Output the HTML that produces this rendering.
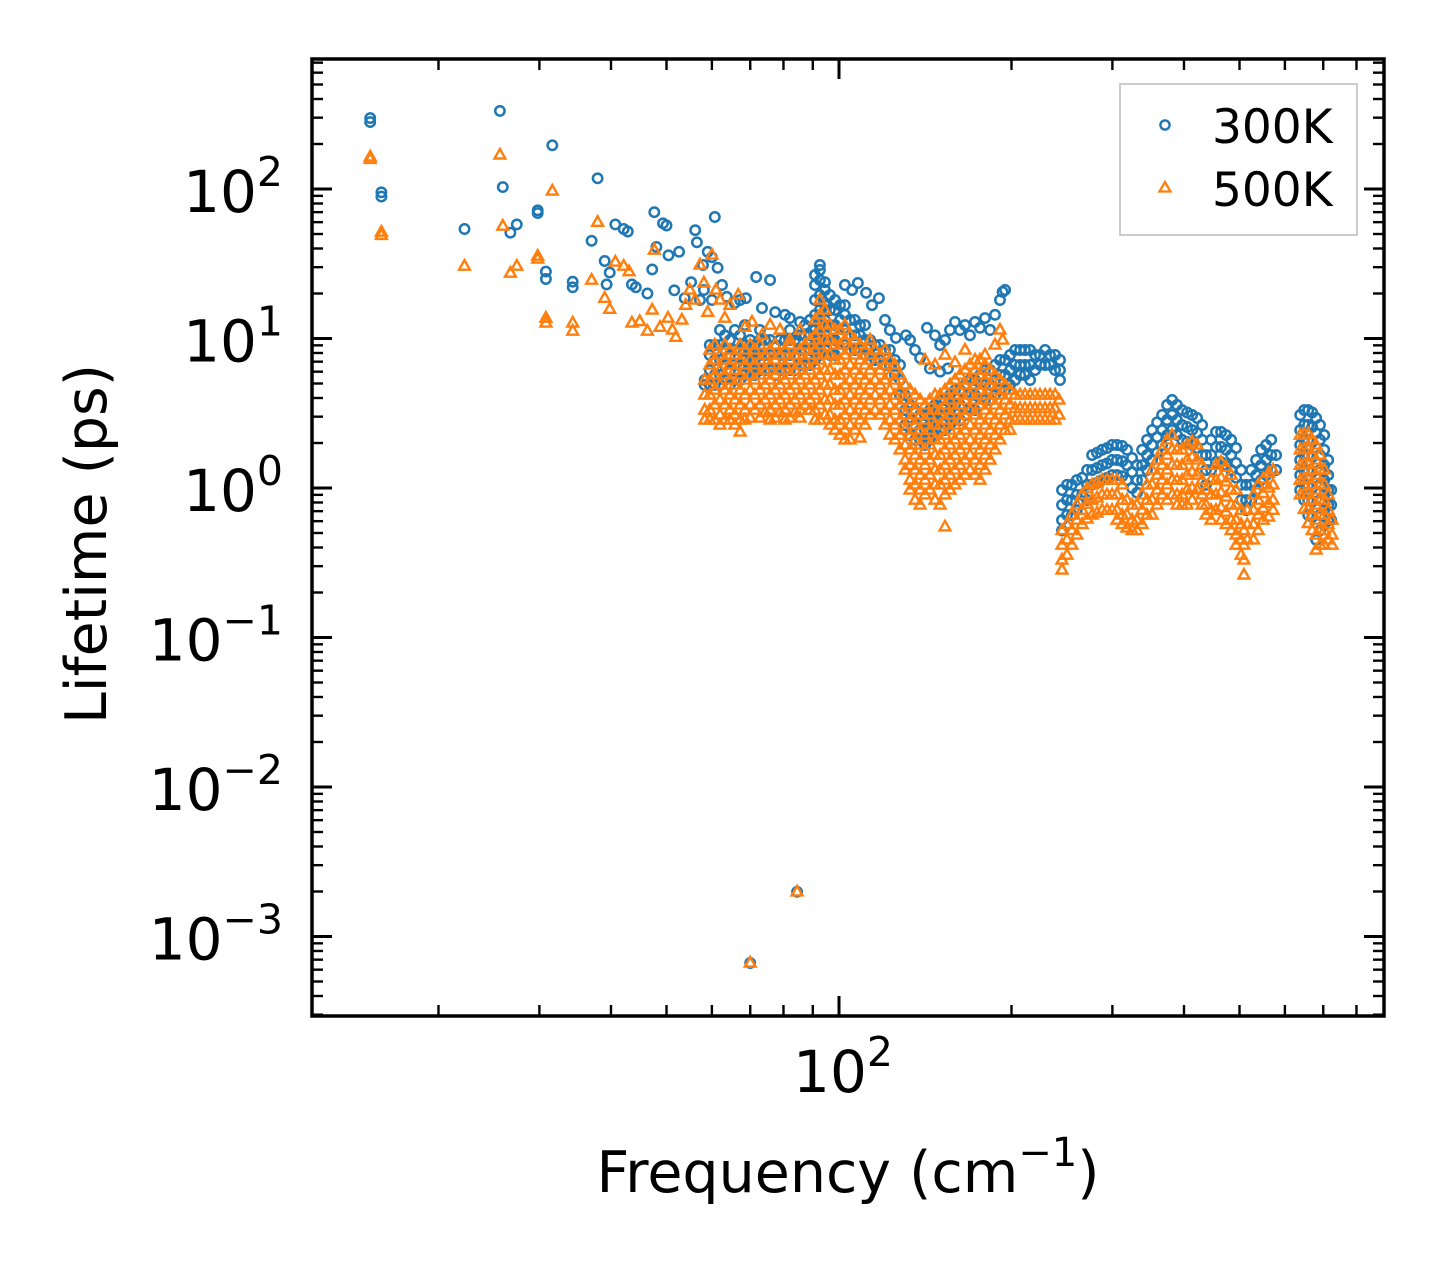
<!DOCTYPE html>
<html><head><meta charset="utf-8"><style>
html,body{margin:0;padding:0;background:#fff;}
svg{display:block;font-family:"DejaVu Sans","Liberation Sans",sans-serif;}
</style></head><body>
<svg id="chart" width="1442" height="1265" viewBox="0 0 1442 1265" xmlns="http://www.w3.org/2000/svg">
<rect x="0" y="0" width="1442" height="1265" fill="#fff"/>
<g id="marks"></g>
<g id="axes"></g>
<text x="106" y="544" font-size="57" text-anchor="middle" transform="rotate(-90 106 544)">Lifetime (ps)</text>
<text x="848" y="1192" font-size="57" text-anchor="middle">Frequency (cm<tspan font-size="40" dy="-26">−1</tspan><tspan dy="26">)</tspan></text>
<g>
<rect x="1120" y="84" width="237" height="151" fill="#fff" stroke="#bbb" stroke-width="1.5"/>
<circle cx="1165" cy="125" r="4.6" fill="none" stroke="#1f77b4" stroke-width="2.4"/>
<text x="1212" y="143" font-size="47">300K</text>
<path d="M1165,182 L1170.5,191.5 L1159.5,191.5 Z" fill="none" stroke="#ff7f0e" stroke-width="2.3"/>
<text x="1212" y="206" font-size="47">500K</text>
</g>
</svg>
<script>
// ---- data ----
const xTickValues = [100];
const yTickExponents = [-3, -2, -1, 0, 1, 2];
const yTickLabels = ["−3", "−2", "−1", "0", "1", "2"];
const xTickLabels = ["2"];

const blueIsolatedFreq = [15.2,15.2,15.9,15.9,22.2,25.6,25.9,26.7,27.4,29.8,29.8,30.8,30.8,31.6,34.3,34.3,37.0,37.9,39.0,39.8,39.3,40.7,42.1,42.8,43.5,44.2,46.3,47.2,47.6,48.0,49.3,50.0,50.4,51.6,52.6,53.8,
56.1,56.5,55.2,57.2,57.9,59.0,60,60.7,58.1,60,61.4,62.5,63.7,65.8,67.2,68.8,71.7,73.4,75.8,77.4,80.5,82.1,85.5,
102.4,105.4,107.9,111.5,114.2,117.4,120.3,122.7,125.7,130.9,
142.4,147.1,150.1,153.1,156.2,159.4,162.6,165.9,169.3,172.7,176.2,179.8,183.5,187.2,191,193,194.9,138.5,144.1,150.1,154.9,133,135.7,
70.0,84.5];
const blueIsolatedLife = [298,280,95,89,54,333,103,51,58,72,69,28,25,196,24,22,45,118,33,27.6,23,58,54,52,23,22,20,29,70,41,59,57,36,21,38,18.6,
53,44,23.8,18.1,31,38,35,65,21.1,18.1,29.7,22.8,19,17.3,18.1,18.6,25.8,16,24.6,15,14.4,13.7,12.9,
22.8,21.1,23.5,20.2,16.7,18.6,13.3,11.4,10.1,10.5,
11.8,10.5,9.05,9.77,11.4,12.9,11.4,12.3,10.5,12.9,11.8,13.7,11.4,14.4,18.1,20.5,21.1,7.4,6.3,6.0,6.3,9.77,8.38,
0.000665,0.00199];

const blueClusterFreq = [58.3,59.5,60.7,62.0,63.2,64.5,65.8,67.2,68.5,70.0,71.3,72.8,74.3,75.8,77.4,78.9,80.5,82.1,83.8,85.5,87.2,89.0,90.8,92.6,94.5,96.4,98.4,100.4,102.4,104.5,106.6,108.8,111,113.3,115.6,117.9,120.3,122.7,125.2,127.8,130.4,133,135.7,138.5,141.3,144.1,147.1,150.1,153.1,156.2,159.4,162.6,165.9,169.3,172.7,176.2,179.8,183.5,187.2,191,194.9,198.8,202.9,207,211.2,215.5,219.9,224.3,228.9,233.5,238.3,243,
245,250,255,260,265.6,271,276.5,282,287.8,293.6,299.6,305.6,312,318.2,324.7,331.2,338,344.8,351.9,359,366.3,373.7,381.4,389,397,405,413.3,421.6,430.2,437,446,455,464.4,473.8,483.4,493.2,503.2,513.5,524,534.5,545.4,556.4,567.8,579.3,
638,648.4,659,669.5,680.3,691,702.6,714,722.7];
const blueClusterLife = [
[5.28,4.89],[4.89,6.15,7.76,9.05],[4.89,5.70,7.18,9.05],[4.89,5.70,7.18,9.05,11.4],[5.28,6.65,8.38,10.5],[4.89,6.15,7.76,9.77],[5.28,6.65,8.38,11.4],[5.28,6.65,8.38,10.5],[5.70,7.18,9.05,12.3],[6.15,7.76,9.77],[5.70,7.18,9.05],[6.15,7.76,9.77,11.4],[6.15,7.76,9.77],[6.15,7.76,9.77],[5.70,7.18,9.05],[6.15,7.76,9.77],[6.15,7.76,9.77],[6.15,7.76,9.77,11.4],[6.15,7.76,9.77],[6.65,8.38,10.5],[6.65,8.38,10.5,12.3],[6.65,8.38,10.5,13.3],
[7.18,9.05,11.4,14.4,18.1,22.8,26.6],[7.76,9.77,12.3,15.5,19.5,24.6,28.7,31],[8.38,10.5,13.3,16.7,21.1,23.8],[7.76,9.77,12.3,15.5,19.5],[7.76,9.77,12.3,15.5,18.1],[8.38,10.5,13.3,16.7],[9.05,11.4,14.4,16.7],[8.38,10.5,13.3],[8.38,10.5,13.3],[8.38,10.5,12.3],[7.76,9.77,12.3],[7.76,9.77],[7.18,9.05],[7.18,9.05],[6.65,8.38],[6.65,8.38],[5.70,7.18],[4.19,5.28,6.65],
[4.19,3.32,2.64],[3.59,2.85,2.26],[3.32,2.64,2.10],[3.08,2.44,2.10],[3.08,2.44,1.94],[3.32,2.64,2.10],[3.59,2.85,2.26],[3.88,3.08,2.44],[3.88,3.08,2.44],[4.19,3.32,2.64],[4.52,3.59,2.85],[4.52,3.59,2.85],[4.89,3.88,3.08],[5.28,4.19,3.32],[5.28,4.19,3.32],[5.70,4.52,3.59],[6.15,4.89,3.88],[6.15,4.89,3.88],[6.65,5.28,4.19],[7.18,5.70,4.52],[7.18,5.70,4.52],[7.76,6.15,4.89],[8.38,6.65,5.28],[8.38,6.65,5.70],[8.38,6.65,5.70],[8.38,6.65,5.28],[7.76,6.15],[7.76,6.65],[8.38,6.65],[7.76,6.65],[7.76,6.15],[7.18,6.15,5.28],
[0.97,0.77,0.61,0.52],[1.05,0.83,0.66],[1.05,0.83,0.66],[1.13,0.90,0.71],[1.17,0.90],[1.32,1.05,0.83],[1.66,1.32,1.05],[1.72,1.36,1.08],[1.80,1.42,1.13],[1.85,1.46,1.17],[1.94,1.54,1.22],[1.94,1.54,1.22],[1.91,1.51,1.20],[1.80,1.42,1.13],[1.59,1.28,1.0],[1.42,1.13,0.93],[1.80,1.42,1.13],[2.10,1.66,1.32],[2.44,1.94,1.54],[2.75,2.19,1.72],[3.08,2.44,1.94],[3.59,2.85,2.26],[3.88,3.08,2.44],[3.59,2.85,2.26],[3.32,2.64,2.10],[3.20,2.56,2.03],[3.08,2.44,1.94],[2.94,2.33,1.85],[2.64,2.10,1.66],[1.66,1.32,1.05],[2.10,1.66,1.32],[2.37,1.88,1.49],[2.37,1.88,1.49],[2.26,1.80,1.42],[2.10,1.66,1.32],[1.85,1.47,1.17],[1.32,1.05,0.83],[1.05,0.83,0.71],[1.32,1.05,0.83],[1.54,1.22,0.97],[1.80,1.42,1.13],[1.94,1.54,1.22],[2.10,1.66,1.32],[1.66,1.32],
[3.08,2.44,1.94,1.54,1.22,0.97],[3.32,2.64,2.10,1.66,1.32,1.05,0.83],[3.32,2.64,2.10,1.66,1.32,1.05,0.83,0.66],[3.20,2.56,2.03,1.61,1.28,1.0,0.81,0.64],[2.94,2.33,1.85,1.47,1.17,0.93,0.73,0.58,0.45],[2.64,2.10,1.66,1.32,1.05,0.83,0.66,0.52],[2.26,1.80,1.42,1.13,0.90,0.71,0.57],[1.54,1.22,0.97,0.77,0.61],[0.97,0.77,0.61]];

const orangeIsolatedFreq = [15.2,15.2,15.9,15.9,22.2,25.6,25.9,26.7,27.4,29.8,29.8,30.8,30.8,31.6,34.3,34.3,37.0,37.9,39.0,39.8,40.7,42.1,43.0,43.5,44.9,
46.3,47.2,47.6,48.7,50.3,51.2,51.9,53.2,54.0,54.9,56.1,57.2,58.1,59,60,61,62,63.2,64.5,66.7,68.5,70.5,73.4,75.8,78.9,82.1,85.5,
141.3,147.1,153.1,159.4,165.9,172.7,179.8,187.2,191,193,
70.0,84.5];
const orangeIsolatedLife = [164,158,51.5,49,30.5,169,56.5,27.4,30.5,35.6,34,13.7,12.7,97,12.7,11.2,24.6,60,18.6,15.7,32.5,30.5,28,12.7,13,
11.2,15.5,39,11.9,13.7,11.4,10.2,13.3,16.7,21.1,18.1,31,23.5,15,36.2,21.1,18.1,13.7,16.7,19.5,11.9,12.9,10.5,12.3,11.4,9.77,11.4,
7.18,6.65,7.76,6.9,8.38,7.18,7.76,9.05,11.4,9.77,
0.000665,0.00199];

const orangeClusterFreq = [58.3,59.5,60.7,62.0,63.2,64.5,65.8,67.2,68.5,70.0,71.3,72.8,74.3,75.8,77.4,78.9,80.5,82.1,83.8,85.5,87.2,89.0,90.8,92.6,94.5,96.4,98.4,100.4,102.4,104.5,106.6,108.8,111,113.3,115.6,117.9,120.3,122.7,125.2,127.8,130.4,133,135.7,138.5,141.3,144.1,147.1,150.1,153.1,156.2,159.4,162.6,165.9,169.3,172.7,176.2,179.8,183.5,187.2,191,194.9,198.8,202.9,207,211.2,215.5,219.9,224.3,228.9,233.5,238.3,242,
245,250,255,260,265.6,271,276.5,282,287.8,293.6,299.6,305.6,312,318.2,324.7,331.2,338,344.8,351.9,359,366.3,373.7,381.4,389,397,405,413.3,421.6,430.2,437,446,455,464.4,473.8,483.4,493.2,503.2,509,516,529,539,550,562,572,
638,648.4,659,669.5,680.3,691,702.6,714,725];
const orangeClusterLife = [
[5.28,4.19,3.32,2.85],[8.38,6.65,5.28,4.19,3.32,2.85],[9.05,7.18,5.70,4.52,3.59,2.85],[7.76,6.15,4.89,3.88,3.08,2.64],[9.05,7.18,5.70,4.52,3.59,2.85],[8.38,6.65,5.28,4.19,3.32,2.85],[7.76,6.15,4.89,3.88,3.08,2.64],[9.05,7.18,5.70,4.52,3.59,2.85,2.37],[8.38,6.65,5.28,4.19,3.32,2.85],[9.05,7.18,5.70,4.52,3.59,2.94],[8.38,6.65,5.28,4.19,3.32],[9.05,7.18,5.70,4.52,3.59,2.94],[7.76,6.15,4.89,3.88,3.2],[8.38,6.65,5.28,4.19,3.32,2.85],[9.05,7.18,5.70,4.52,3.59,2.94],[7.76,6.15,4.89,3.88,3.2],[8.38,6.65,5.28,4.19,3.32,2.85],[9.05,7.18,5.70,4.52,3.59,2.94],[7.76,6.15,4.89,3.88,3.2],[8.38,6.65,5.28,4.19,3.32,2.94],[9.05,7.18,5.70,4.52,3.59],[9.77,7.76,6.15,4.89,3.88,3.32],
[13.3,10.5,8.38,6.65,5.28,4.19,3.32,2.85],[18.1,14.4,11.4,9.05,7.18,5.70,4.52,3.59,2.85],[15.5,12.3,9.77,7.76,6.15,4.89,3.88,3.08],[12.3,9.77,7.76,6.15,4.89,3.88,3.08,2.64],[11.4,9.05,7.18,5.70,4.52,3.59,2.85,2.44],[11.4,9.05,7.18,5.70,4.52,3.59,2.85,2.26],[12.3,9.77,7.76,6.15,4.89,3.88,3.08,2.44,2.10],[10.5,8.38,6.65,5.28,4.19,3.32,2.64,2.10],[9.77,7.76,6.15,4.89,3.88,3.08,2.44],[9.05,7.18,5.70,4.52,3.59,2.85,2.16],[8.38,6.65,5.28,4.19,3.32,2.64],[9.77,7.76,6.15,4.89,3.88,3.08],[8.38,6.65,5.28,4.19,3.32],[7.76,6.15,4.89,3.88,3.08],[8.38,6.65,5.28,4.19,3.32,2.64],[7.18,5.70,4.52,3.59,2.85,2.26],[6.65,5.28,4.19,3.32,2.64,2.10],[5.70,4.52,3.59,2.85,2.26,1.80],
[4.89,3.88,3.08,2.44,1.94,1.54,1.32],[4.52,3.59,2.85,2.26,1.80,1.42,1.13,0.97],[4.19,3.32,2.64,2.10,1.66,1.32,1.05,0.83],[3.88,3.08,2.44,1.94,1.54,1.22,0.97,0.77],[3.59,2.85,2.26,1.80,1.42,1.13,0.90],[3.88,3.08,2.44,1.94,1.54,1.22,0.97],[4.19,3.32,2.64,2.10,1.66,1.32,1.05,0.83],[4.19,3.32,2.64,2.10,1.66,1.32,1.05,0.77],[4.52,3.59,2.85,2.26,1.80,1.42,1.13,0.90,0.55],[4.89,3.88,3.08,2.44,1.94,1.54,1.22,0.97],[5.28,4.19,3.32,2.64,2.10,1.66,1.32,1.05],[5.70,4.52,3.59,2.85,2.26,1.80,1.42,1.13],[6.15,4.89,3.88,3.08,2.44,1.94,1.54,1.22],[6.65,5.28,4.19,3.32,2.64,2.10,1.66,1.32],[6.15,4.89,3.88,3.08,2.44,1.94,1.54,1.22],[7.18,5.70,4.52,3.59,2.85,2.26,1.80,1.42,1.13],[6.65,5.28,4.19,3.32,2.64,2.10,1.66,1.32],[6.15,4.89,3.88,3.08,2.44,1.94,1.54],[5.70,4.52,3.59,2.85,2.26,1.80],[5.28,4.19,3.32,2.64,2.10],[4.89,3.88,3.08,2.44],[4.52,3.59,2.85,2.44],
[4.19,3.4,2.85],[4.19,3.4,2.85],[4.19,3.4,2.85],[4.19,3.4,2.85],[4.19,3.4,2.85],[4.19,3.4,2.85],[4.19,3.4,2.85],[4.19,3.4,2.85],[4.19,3.4,2.85],[3.88,3.08],
[0.52,0.415,0.33,0.283],[0.57,0.45,0.356],[0.66,0.52,0.415],[0.77,0.61,0.485],[0.90,0.71,0.57],[0.99,0.78,0.62],[1.05,0.83,0.66],[1.08,0.86,0.68],[1.13,0.90,0.71],[1.13,0.90,0.71],[1.13,0.90,0.71],[1.13,0.90,0.71,0.61],[1.05,0.83,0.66,0.57],[0.83,0.66,0.54],[0.77,0.61,0.52],[0.77,0.61,0.52],[0.90,0.71,0.57],[1.05,0.83,0.66],[1.32,1.05,0.83,0.66],[1.54,1.22,0.97,0.77],[1.80,1.42,1.13,0.90],[2.10,1.66,1.32,1.05,0.83],[2.26,1.80,1.42,1.13,0.90],[1.80,1.42,1.13,0.90,0.77],[1.80,1.42,1.13,0.90,0.77],[1.94,1.54,1.22,0.97,0.77],[2.03,1.61,1.28,1.0,0.83],[1.94,1.54,1.22,0.97],[1.42,1.13,0.90,0.77],[0.97,0.77,0.66],[1.13,0.90,0.71,0.61],[1.42,1.13,0.90,0.71],[1.49,1.17,0.93,0.74,0.61],[1.38,1.10,0.87,0.69,0.57],[1.22,0.97,0.77,0.61,0.52],[0.97,0.77,0.61,0.485,0.415],[0.71,0.57,0.45,0.356],[0.52,0.415,0.33,0.262],[0.71,0.57,0.45],[0.90,0.71,0.57,0.45],[1.05,0.83,0.66,0.52],[1.15,0.92,0.73,0.61],[1.26,1.0,0.79,0.64],[1.32,1.05,0.83,0.71],
[2.26,1.80,1.42,1.13,0.90],[2.29,1.82,1.44,1.15,0.91,0.72],[2.29,1.82,1.44,1.15,0.91,0.72,0.58],[2.10,1.66,1.32,1.05,0.83,0.66,0.52],[1.94,1.54,1.22,0.97,0.77,0.61,0.485,0.385],[1.66,1.32,1.05,0.83,0.66,0.52,0.415],[1.32,1.05,0.83,0.66,0.52,0.415],[0.90,0.71,0.57,0.45],[0.61,0.485,0.415]];

// ---- axes geometry ----
const PL = 312, PR = 1384, PT = 59, PB = 1016;
const X0 = 839, XD = 573;
const Y0 = 488, YD = 149.5;
function xs(f){ return X0 + XD * Math.log10(f / 100); }
function ys(v){ return Y0 - YD * Math.log10(v); }

const NS = "http://www.w3.org/2000/svg";
const marks = document.getElementById("marks");
const axes = document.getElementById("axes");
function mk(tag, attrs, parent){
  const e = document.createElementNS(NS, tag);
  for (const k in attrs) e.setAttribute(k, attrs[k]);
  parent.appendChild(e);
  return e;
}
function circ(f, v){
  const x = xs(f), y = ys(v);
  if (x < PL || x > PR || y < PT || y > PB) return;
  const c = mk("circle", {cx: x.toFixed(1), cy: y.toFixed(1), r: 4.7, fill: "none", stroke: "#1f77b4", "stroke-width": 2.5}, marks);
  
  
}
function tri(f, v){
  const x = xs(f), y = ys(v);
  if (x < PL || x > PR || y < PT || y > PB) return;
  const p = mk("path", {d: `M${x.toFixed(1)},${(y-6).toFixed(1)} L${(x+5.4).toFixed(1)},${(y+3.6).toFixed(1)} L${(x-5.4).toFixed(1)},${(y+3.6).toFixed(1)} Z`, fill: "none", stroke: "#ff7f0e", "stroke-width": 2.4}, marks);
  
  
}
blueIsolatedFreq.forEach((f, i) => circ(f, blueIsolatedLife[i]));
blueClusterFreq.forEach((f, i) => blueClusterLife[i].forEach(v => circ(f, v)));
orangeIsolatedFreq.forEach((f, i) => tri(f, orangeIsolatedLife[i]));
orangeClusterFreq.forEach((f, i) => orangeClusterLife[i].forEach(v => tri(f, v)));

// ---- ticks ----
for (let d = 1; d <= 3; d++){
  for (let m = 1; m <= 9; m++){
    const f = m * Math.pow(10, d);
    const x = xs(f);
    if (x <= PL + 1 || x >= PR - 1) continue;
    const len = m === 1 ? 20 : 11, w = m === 1 ? 3 : 2.4;
    const a = mk("line", {x1: x, x2: x, y1: PB, y2: PB - len, stroke: "#000", "stroke-width": w}, axes);
    
    
    const b = mk("line", {x1: x, x2: x, y1: PT, y2: PT + len, stroke: "#000", "stroke-width": w}, axes);
    
    
  }
}
for (let d = -4; d <= 2; d++){
  for (let m = 1; m <= 9; m++){
    const v = m * Math.pow(10, d);
    const y = ys(v);
    if (y <= PT + 1 || y >= PB - 1) continue;
    const len = m === 1 ? 20 : 11, w = m === 1 ? 3 : 2.4;
    const a = mk("line", {x1: PL, x2: PL + len, y1: y, y2: y, stroke: "#000", "stroke-width": w}, axes);
    
    
    const b = mk("line", {x1: PR, x2: PR - len, y1: y, y2: y, stroke: "#000", "stroke-width": w}, axes);
    
    
  }
}
const frame = mk("rect", {x: PL, y: PT, width: PR - PL, height: PB - PT, fill: "none", stroke: "#000", "stroke-width": 3.5}, axes);



yTickExponents.forEach((e, i) => {
  const y = ys(Math.pow(10, e));
  const t = mk("text", {x: 283, y: y + 23, "font-size": 58, "text-anchor": "end"}, axes);
  
  
  const a = mk("tspan", {}, t); a.textContent = "10";
  const b = mk("tspan", {"font-size": 41, dy: -26}, t); b.textContent = yTickLabels[i];
});
xTickValues.forEach((v, i) => {
  const x = xs(v);
  const t = mk("text", {x: x + 4, y: 1092, "font-size": 58, "text-anchor": "middle"}, axes);
  
  
  const a = mk("tspan", {}, t); a.textContent = "10";
  const b = mk("tspan", {"font-size": 41, dy: -26}, t); b.textContent = xTickLabels[i];
});
</script>
</body></html>
